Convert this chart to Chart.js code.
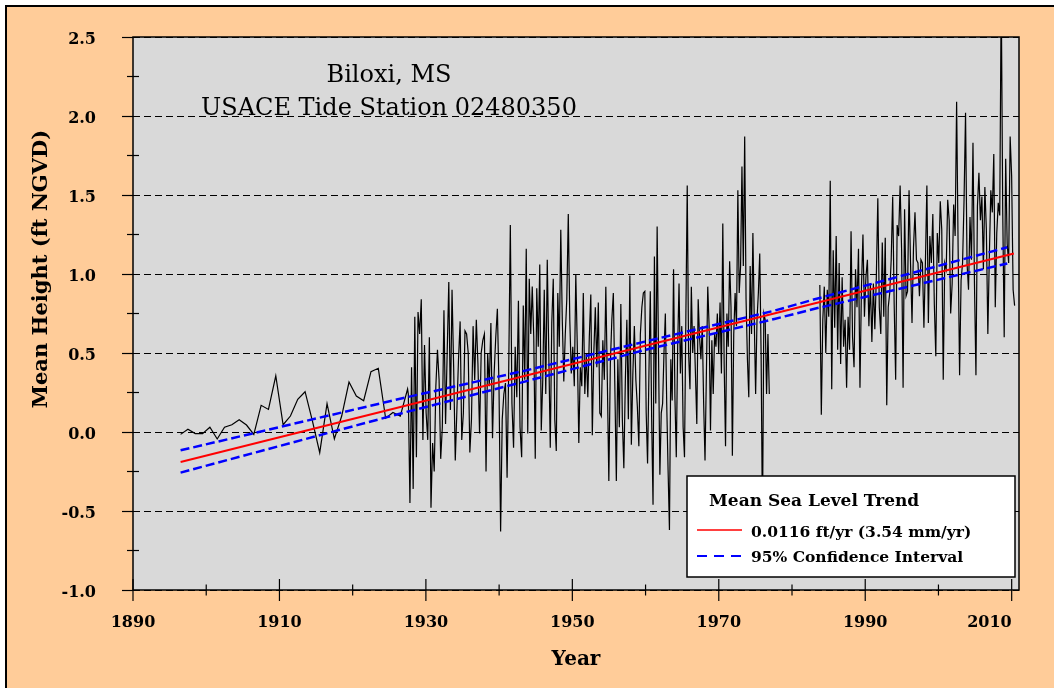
<!DOCTYPE html>
<html>
<head>
<meta charset="utf-8">
<script src="https://cdn.jsdelivr.net/npm/chart.js@4.4.0/dist/chart.umd.min.js"></script>
<style>
  html, body { margin: 0; background: #fff; width: 1054px; height: 688px; overflow: hidden; }
  body { position: relative; }
  #frame { position: absolute; left: 5px; top: 5px; width: 1100px; height: 740px; background: #ffcc99;
           border-left: 2px solid #000; border-top: 2px solid #000; }
  #wrap { position: absolute; left: 0; top: 0; width: 1054px; height: 688px; }
</style>
</head>
<body>
<div id="frame"></div>
<div id="wrap"><canvas id="chart"></canvas></div>
<script>
// early record, one value a year (ft NGVD)
const annualSpan = [1896.5, 1927.5];
const annualValues = [-0.015, 0.017, -0.01, -0.01, 0.03, -0.044, 0.03, 0.046, 0.078, 0.044,
  -0.015, 0.169, 0.143, 0.356, 0.046, 0.101, 0.207, 0.255, 0.07, -0.131,
  0.18, -0.044, 0.101, 0.316, 0.228, 0.198, 0.382, 0.403, 0.087, 0.124, 0.101, 0.272];

const span1 = [1927.6, 1943.3];
const values1 = [0.24, -0.45, 0.41, -0.36, 0.73, -0.16, 0.76, 0.62, 0.84, -0.05, 0.55, 0.12,
  -0.05, 0.60, -0.48, -0.07, -0.25, 0.29, 0.52, 0.33, -0.17, 0.03, 0.77, 0.05, 0.50, 0.95,
  0.14, 0.90, 0.41, -0.18, 0.14, 0.46, 0.70, -0.05, 0.12, 0.64, 0.62, 0.50, -0.13, 0.08,
  0.67, 0.33, 0.71, 0.43, -0.01, 0.50, 0.58, 0.62, -0.25, 0.50, 0.29, 0.69, -0.04, 0.37,
  0.60, 0.78, 0.29, -0.63, 0.08, 0.24, 0.31, -0.29, 0.39, 1.31, 0.18, -0.10, 0.54, 0.22,
  0.83, 0.03, -0.16, 0.80];

const span2 = [1943.5, 1959.7];
const values2 = [0.33, 1.16, -0.01, 0.97, 0.62, 0.92, 0.60, -0.17, 0.91, 0.54, 1.06, 0.01,
  0.33, 0.90, 0.24, 1.09, 0.50, -0.10, 0.69, 0.97, 0.08, -0.12, 0.88, 0.54, 1.28, 0.71,
  0.32, 0.62, 0.84, 1.38, 0.71, 0.37, 0.54, 0.29, 1.00, 0.54, -0.07, 0.41, 0.29, 0.88,
  0.24, 0.50, 0.22, 0.60, 0.87, -0.02, 0.50, 0.79, 0.41, 0.82, 0.12, 0.10, 0.58, 0.33,
  0.92, 0.33, -0.31, 0.43, 0.71, 0.88, 0.29, -0.31, 0.46, 0.03, 0.81, 0.08, -0.23, 0.33,
  0.71, 0.08, 0.99, -0.08, 0.37, 0.67, 0.33, 0.16, -0.09, 0.62, 0.79, 0.88];

const span3 = [1959.9, 1976.9];
const values3 = [0.89, 0.12, -0.20, 0.37, 0.89, 0.08, -0.46, 1.11, 0.18, 1.30, 0.50, -0.27,
  0.12, 0.18, 0.50, 0.75, 0.18, -0.24, -0.62, 0.46, 0.20, 1.03, 0.22, -0.16, 0.54, 0.94,
  0.37, 0.67, 0.03, -0.16, 0.73, 1.56, 0.50, 0.27, 0.92, 0.50, 0.67, 0.37, 0.05, 0.84,
  0.60, 0.46, 0.67, 0.18, -0.18, 0.37, 0.92, 0.67, 0.01, 0.58, 0.24, 0.62, 0.54, 0.75,
  0.50, 0.82, 0.37, 1.32, 0.43, -0.09, 0.75, 0.54, 1.08, 0.79, -0.15, 0.62, 0.88, 0.67,
  1.53, 0.88, 1.05, 1.68, 1.05, 1.87, 0.84, 0.46, 0.22, 1.05, 0.62, 1.26, 0.71, 0.24,
  0.71, 0.88, 1.13, 0.50, -0.60, 0.75, 0.71, 0.24, 0.62, 0.24];

const span4 = [1983.8, 2010.4];
const values4 = [0.93, 0.11, 0.71, 0.92, 0.50, 0.90, 0.73, 1.59, 0.27, 1.15, 0.66, 1.24,
  0.52, 1.07, 0.43, 0.98, 0.54, 0.71, 0.28, 0.73, 0.52, 1.27, 0.60, 0.41, 1.03, 0.79,
  1.16, 0.28, 0.92, 1.25, 0.73, 0.98, 1.09, 0.67, 0.94, 0.57, 0.94, 0.65, 0.98, 1.48,
  0.79, 0.62, 1.20, 0.73, 1.23, 0.17, 0.79, 0.88, 1.09, 1.49, 0.81, 0.33, 1.31, 1.24,
  1.56, 1.15, 0.28, 1.41, 0.86, 0.89, 1.53, 1.07, 0.69, 1.17, 1.39, 1.09, 1.07, 0.86,
  1.09, 1.07, 0.66, 1.07, 1.56, 0.69, 1.24, 1.07, 1.38, 0.81, 0.48, 1.26, 1.07, 1.46,
  1.28, 0.33, 1.07, 1.03, 1.47, 1.34, 0.75, 0.94, 1.44, 1.24, 2.09, 1.17, 0.36, 0.96,
  1.07, 1.47, 2.02, 1.07, 0.90, 1.36, 1.09, 1.83, 0.94, 0.36, 1.43, 1.64, 1.34, 1.49,
  1.03, 1.55, 1.28, 0.62, 1.11, 1.53, 1.39, 1.76, 0.79, 1.26, 1.45, 1.37, 2.8, 1.41,
  0.60, 1.73, 1.19, 1.07, 1.87, 1.62, 0.90, 0.80];

// linear trend and its 95% band
const trendYears = [1896.5, 2010.3];
const trendValues = [-0.19, 1.13];
const ciYears = [1896.5, 1927.1, 1943.5, 1959.9, 1977.6, 1983.1, 2009.4];
const ciUpper = [-0.116, 0.217, 0.388, 0.572, 0.768, 0.84, 1.169];
const ciLower = [-0.257, 0.124, 0.319, 0.519, 0.715, 0.78, 1.067];

// year ticks: every 10 years, labelled every 20
const yearTicks = [1890, 1900, 1910, 1920, 1930, 1940, 1950, 1960, 1970, 1980, 1990, 2000, 2010];

const stationTitle = ["Biloxi, MS", "USACE Tide Station 02480350"];
const legendTitle = "Mean Sea Level Trend";
const legendLabels = ["0.0116 ft/yr (3.54 mm/yr)", "95% Confidence Interval"];

const serif = "'DejaVu Serif', serif";

function spread(span, values) {
  return values.map((v, i) => ({ x: span[0] + (span[1] - span[0]) * i / (values.length - 1), y: v }));
}

function pairs(xs, ys) {
  return xs.map((x, i) => ({ x: x, y: ys[i] }));
}

let series = [].concat(
  spread(annualSpan, annualValues),
  spread(span1, values1),
  spread(span2, values2),
  spread(span3, values3),
  [{ x: 1980, y: null }],
  spread(span4, values4)
);

function line(ctx, x1, y1, x2, y2) {
  ctx.beginPath();
  ctx.moveTo(x1, y1);
  ctx.lineTo(x2, y2);
  ctx.stroke();
}

const decor = {
  id: "decor",
  beforeDraw(chart) {
    const { ctx, chartArea: a } = chart;
    ctx.save();
    ctx.fillStyle = "#d9d9d9";
    ctx.fillRect(a.left, a.top, a.right - a.left, a.bottom - a.top);
    ctx.restore();
  },
  afterDraw(chart) {
    const { ctx, chartArea: a, scales: { x, y } } = chart;
    ctx.save();

    // plot frame
    ctx.strokeStyle = "#000";
    ctx.lineWidth = 1.5;
    ctx.strokeRect(a.left, a.top, a.right - a.left, a.bottom - a.top);

    // minor y ticks
    ctx.lineWidth = 1.2;
    y.ticks.forEach(t => {
      if (t.value >= 2.5) return;
      const py = y.getPixelForValue(t.value + 0.25);
      line(ctx, a.left - 6, py, a.left + 6, py);
    });

    // x ticks and labels
    ctx.fillStyle = "#000";
    ctx.font = "bold 16px " + serif;
    ctx.textBaseline = "middle";
    x.ticks.forEach((t, i) => {
      const px = x.getPixelForValue(t.value);
      const major = (t.value - 1890) % 20 === 0;
      const h = major ? 11 : 5.5;
      line(ctx, px, a.bottom - h, px, a.bottom + h);
      if (major) {
        ctx.textAlign = i === x.ticks.length - 1 ? "right" : "center";
        ctx.fillText(String(t.value), px, 623);
      }
    });

    // y axis title
    ctx.save();
    ctx.translate(42, 269);
    ctx.rotate(-Math.PI / 2);
    ctx.textAlign = "center";
    ctx.font = "bold 21px " + serif;
    ctx.fillText("Mean Height (ft NGVD)", 0, 0);
    ctx.restore();

    // station title
    ctx.textAlign = "center";
    ctx.textBaseline = "alphabetic";
    ctx.font = "24px " + serif;
    ctx.fillText(stationTitle[0], 389, 82);
    ctx.fillText(stationTitle[1], 389, 115);

    // legend box
    const bx = a.right - 332, by = a.bottom - 114, bw = 328, bh = 101;
    ctx.fillStyle = "#fff";
    ctx.fillRect(bx, by, bw, bh);
    ctx.lineWidth = 1.5;
    ctx.strokeStyle = "#000";
    ctx.strokeRect(bx, by, bw, bh);

    ctx.fillStyle = "#000";
    ctx.textAlign = "left";
    ctx.font = "bold 17px " + serif;
    ctx.fillText(legendTitle, bx + 22, by + 30);
    ctx.font = "bold 15.5px " + serif;
    ctx.fillText(legendLabels[0], bx + 64, by + 61);
    ctx.fillText(legendLabels[1], bx + 64, by + 86);

    ctx.lineWidth = 1.5;
    ctx.strokeStyle = "#ff0000";
    line(ctx, bx + 10, by + 54, bx + 55, by + 54);
    ctx.lineWidth = 2;
    ctx.strokeStyle = "#0000ff";
    ctx.setLineDash([10, 7]);
    line(ctx, bx + 10, by + 80, bx + 55, by + 80);

    ctx.restore();
  }
};

new Chart(document.getElementById("chart"), {
  type: "line",
  data: {
    datasets: [
      {
        label: "Monthly mean",
        data: series,
        borderColor: "#000",
        borderWidth: 1.2,
        pointRadius: 0,
        spanGaps: false,
        clip: 0,
        order: 3
      },
      {
        label: legendLabels[0],
        data: pairs(trendYears, trendValues),
        borderColor: "#ff0000",
        borderWidth: 2,
        pointRadius: 0,
        order: 1
      },
      {
        label: "Upper 95%",
        data: pairs(ciYears, ciUpper),
        borderColor: "#0000ff",
        borderWidth: 2.5,
        borderDash: [9, 4],
        pointRadius: 0,
        order: 2
      },
      {
        label: "Lower 95%",
        data: pairs(ciYears, ciLower),
        borderColor: "#0000ff",
        borderWidth: 2.5,
        borderDash: [9, 4],
        pointRadius: 0,
        order: 2
      }
    ]
  },
  options: {
    responsive: true,
    maintainAspectRatio: false,
    animation: false,
    layout: { padding: { left: 0, top: 37, right: 35, bottom: 0 } },
    plugins: {
      legend: { display: false },
      tooltip: { enabled: false }
    },
    scales: {
      x: {
        type: "linear",
        min: 1890,
        max: 2011,
        ticks: { display: false },
        afterBuildTicks(scale) { scale.ticks = yearTicks.map(v => ({ value: v })); },
        grid: { display: false },
        border: { display: false },
        title: {
          display: true,
          text: "Year",
          color: "#000",
          font: { family: serif, size: 20, weight: "bold" },
          padding: { bottom: 16 }
        },
        afterFit(scale) { scale.height = 98; }
      },
      y: {
        min: -1,
        max: 2.5,
        ticks: {
          stepSize: 0.5,
          color: "#000",
          padding: 26,
          labelOffset: 3,
          font: { family: serif, size: 16, weight: "bold" },
          callback: v => v.toFixed(1)
        },
        grid: {
          color: "#000",
          lineWidth: 1,
          tickLength: 11,
          tickColor: "#000",
          tickWidth: 1.2,
          tickBorderDash: []
        },
        border: { display: false, dash: [7, 4] },
        afterFit(scale) { scale.width = 133; }
      }
    }
  },
  plugins: [decor]
});
</script>
</body>
</html>
